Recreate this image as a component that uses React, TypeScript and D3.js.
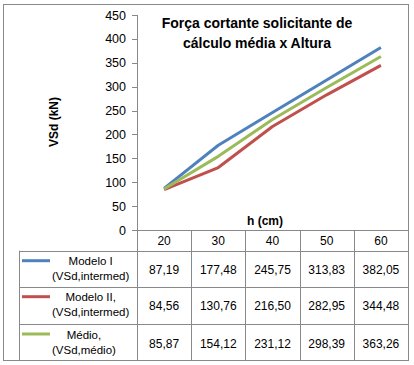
import * as d3 from "d3";
import { useEffect, useRef } from "react";

const categories = ["20", "30", "40", "50", "60"];
const modeloI = [87.19, 177.48, 245.75, 313.83, 382.05];
const modeloII = [84.56, 130.76, 216.5, 282.95, 344.48];
const medio = [85.87, 154.12, 231.12, 298.39, 363.26];
const seriesLabels = [
  ["Modelo I", "(VSd,intermed)"],
  ["Modelo II,", "(VSd,intermed)"],
  ["Médio,", "(VSd,médio)"],
];
const seriesColors = ["#4f81bd", "#c0504d", "#9bbb59"];
const yTicks = [0, 50, 100, 150, 200, 250, 300, 350, 400, 450];

const width = 414;
const height = 365;
const font = "'Liberation Sans', Arial, sans-serif";
const gridColor = "#898989";

const plot = { left: 137, right: 408, top: 15, bottom: 230 };
const table = { left: 19, top: 250.7, rowH: [36, 37.3, 37] };

function textWidth(text: string, size: number) {
  const ctx = document.createElement("canvas").getContext("2d");
  if (!ctx) return text.length * size * 0.55;
  ctx.font = `${size}px 'Liberation Sans', Arial`;
  return ctx.measureText(text).width;
}

export default function App() {
  const svgRef = useRef<SVGSVGElement>(null);

  useEffect(() => {
    if (!svgRef.current) return;
    const svg = d3.select(svgRef.current);
    svg.selectAll("*").remove();

    const series = [modeloI, modeloII, medio];
    const fmt = d3.formatLocale({
      decimal: ",",
      thousands: ".",
      grouping: [3],
      currency: ["", ""],
    }).format(".2f");

    const x = d3.scaleBand().domain(categories).range([plot.left, plot.right]);
    const y = d3.scaleLinear().domain([0, 450]).range([plot.bottom, plot.top]);

    svg
      .append("rect")
      .attr("x", 3.5)
      .attr("y", 4.5)
      .attr("width", plot.right - 3)
      .attr("height", 356)
      .attr("fill", "#fff")
      .attr("stroke", gridColor);

    // y axis
    const yAxis = svg.append("g");
    yAxis
      .append("line")
      .attr("x1", plot.left + 0.5)
      .attr("x2", plot.left + 0.5)
      .attr("y1", y(450))
      .attr("y2", y(0))
      .attr("stroke", gridColor);
    yTicks.forEach((t) => {
      yAxis
        .append("line")
        .attr("x1", plot.left - 5)
        .attr("x2", plot.left)
        .attr("y1", Math.round(y(t)) + 0.5)
        .attr("y2", Math.round(y(t)) + 0.5)
        .attr("stroke", gridColor);
      yAxis
        .append("text")
        .attr("x", 126)
        .attr("y", y(t) + 4.5)
        .attr("text-anchor", "end")
        .style("font", `12.5px ${font}`)
        .text(t);
    });

    // x axis line
    svg
      .append("line")
      .attr("x1", plot.left)
      .attr("x2", plot.right)
      .attr("y1", plot.bottom + 0.5)
      .attr("y2", plot.bottom + 0.5)
      .attr("stroke", gridColor);

    // lines
    const line = d3
      .line<number>()
      .x((_, i) => (x(categories[i]) ?? 0) + x.bandwidth() / 2)
      .y((d) => y(d));
    series.forEach((s, i) => {
      svg
        .append("path")
        .attr("d", line(s))
        .attr("fill", "none")
        .attr("stroke", seriesColors[i])
        .attr("stroke-width", 3)
        .attr("stroke-linejoin", "round");
    });

    // titles
    const title = svg
      .append("text")
      .attr("text-anchor", "middle")
      .style("font", `bold 14px ${font}`);
    title.append("tspan").attr("x", 257).attr("y", 28).text("Força cortante solicitante de");
    title.append("tspan").attr("x", 257).attr("y", 48).text("cálculo média x Altura");

    svg
      .append("text")
      .attr("x", 265)
      .attr("y", 225)
      .attr("text-anchor", "middle")
      .style("font", `bold 12px ${font}`)
      .text("h (cm)");

    svg
      .append("text")
      .attr("transform", "translate(58,122) rotate(-90)")
      .attr("text-anchor", "middle")
      .style("font", `bold 12px ${font}`)
      .text("VSd (kN)");

    // data table
    const rowTops = [table.top];
    table.rowH.forEach((h, i) => rowTops.push(rowTops[i] + h));
    const tableBottom = rowTops[rowTops.length - 1];

    const grid = svg.append("g").attr("stroke", gridColor);
    rowTops.slice(0, -1).forEach((t) => {
      grid
        .append("line")
        .attr("x1", table.left)
        .attr("x2", plot.right)
        .attr("y1", Math.round(t) + 0.5)
        .attr("y2", Math.round(t) + 0.5);
    });
    grid
      .append("line")
      .attr("x1", table.left + 0.5)
      .attr("x2", table.left + 0.5)
      .attr("y1", table.top)
      .attr("y2", tableBottom);
    const colEdges = [...categories.map((c) => x(c) ?? 0), plot.right];
    colEdges.forEach((cx) => {
      grid
        .append("line")
        .attr("x1", Math.round(cx) + 0.5)
        .attr("x2", Math.round(cx) + 0.5)
        .attr("y1", plot.bottom)
        .attr("y2", tableBottom);
    });

    categories.forEach((c) => {
      svg
        .append("text")
        .attr("x", (x(c) ?? 0) + x.bandwidth() / 2)
        .attr("y", 245)
        .attr("text-anchor", "middle")
        .style("font", `12px ${font}`)
        .text(c);
    });

    series.forEach((s, i) => {
      const top = rowTops[i];
      const mid = top + table.rowH[i] / 2;
      svg
        .append("line")
        .attr("x1", 22)
        .attr("x2", 50)
        .attr("y1", top + 10)
        .attr("y2", top + 10)
        .attr("stroke", seriesColors[i])
        .attr("stroke-width", 3);
      const labelW = Math.max(...seriesLabels[i].map((l) => textWidth(l, 11.5)));
      const lbl = svg
        .append("text")
        .attr("text-anchor", "middle")
        .style("font", `11.5px ${font}`);
      seriesLabels[i].forEach((l, j) => {
        lbl
          .append("tspan")
          .attr("x", 52 + labelW / 2)
          .attr("y", top + 14.5 + j * 15)
          .text(l);
      });
      s.forEach((v, k) => {
        svg
          .append("text")
          .attr("x", (x(categories[k]) ?? 0) + x.bandwidth() / 2)
          .attr("y", mid + 5)
          .attr("text-anchor", "middle")
          .style("font", `12px ${font}`)
          .text(fmt(v));
      });
    });
  }, []);

  return (
    <svg
      ref={svgRef}
      width={width}
      height={height}
      style={{ position: "absolute", left: 0, top: 0, background: "#fff" }}
    />
  );
}
